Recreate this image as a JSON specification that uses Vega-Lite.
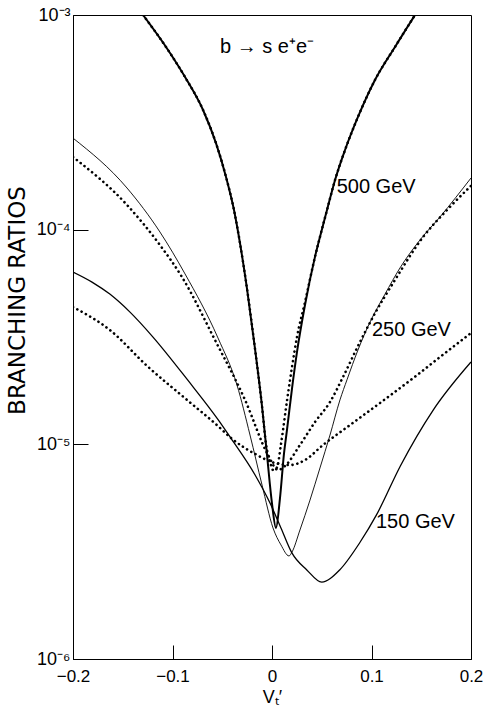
{
  "$schema": "https://vega.github.io/schema/vega-lite/v6.json",
  "autosize": {"type": "none"},
  "padding": {"left": 73, "top": 15, "right": 14, "bottom": 49},
  "width": 398,
  "height": 644,
  "background": "white",
  "config": {
    "view": {"stroke": "black", "strokeWidth": 1},
    "font": "Liberation Sans"
  },
  "datasets": {
    "curves": [
      {"series": "500s", "x": -0.1296, "y": 1e-3},
      {"series": "500s", "x": -0.1045, "y": 6.87e-4},
      {"series": "500s", "x": -0.0874, "y": 5.14e-4},
      {"series": "500s", "x": -0.0693, "y": 3.61e-4},
      {"series": "500s", "x": -0.0563, "y": 2.53e-4},
      {"series": "500s", "x": -0.0462, "y": 1.76e-4},
      {"series": "500s", "x": -0.0382, "y": 1.235e-4},
      {"series": "500s", "x": -0.0322, "y": 8.67e-5},
      {"series": "500s", "x": -0.0251, "y": 5.3e-5},
      {"series": "500s", "x": -0.0171, "y": 2.79e-5},
      {"series": "500s", "x": -0.01, "y": 1.5e-5},
      {"series": "500s", "x": -0.005, "y": 8.9e-6},
      {"series": "500s", "x": 0.0, "y": 5.3e-6},
      {"series": "500s", "x": 0.004, "y": 4.08e-6},
      {"series": "500s", "x": 0.008, "y": 5.6e-6},
      {"series": "500s", "x": 0.0121, "y": 9.1e-6},
      {"series": "500s", "x": 0.0151, "y": 1.17e-5},
      {"series": "500s", "x": 0.0201, "y": 1.82e-5},
      {"series": "500s", "x": 0.0251, "y": 2.69e-5},
      {"series": "500s", "x": 0.0332, "y": 4.47e-5},
      {"series": "500s", "x": 0.0432, "y": 7.47e-5},
      {"series": "500s", "x": 0.0482, "y": 9.25e-5},
      {"series": "500s", "x": 0.0553, "y": 1.235e-4},
      {"series": "500s", "x": 0.0633, "y": 1.7e-4},
      {"series": "500s", "x": 0.0734, "y": 2.35e-4},
      {"series": "500s", "x": 0.0864, "y": 3.35e-4},
      {"series": "500s", "x": 0.1035, "y": 4.98e-4},
      {"series": "500s", "x": 0.1236, "y": 7.1e-4},
      {"series": "500s", "x": 0.1437, "y": 1e-3},

      {"series": "500d", "x": -0.1296, "y": 1e-3},
      {"series": "500d", "x": -0.1045, "y": 6.87e-4},
      {"series": "500d", "x": -0.0874, "y": 5.14e-4},
      {"series": "500d", "x": -0.0693, "y": 3.61e-4},
      {"series": "500d", "x": -0.0563, "y": 2.53e-4},
      {"series": "500d", "x": -0.0462, "y": 1.76e-4},
      {"series": "500d", "x": -0.0382, "y": 1.235e-4},
      {"series": "500d", "x": -0.0322, "y": 8.67e-5},
      {"series": "500d", "x": -0.0251, "y": 5.3e-5},
      {"series": "500d", "x": -0.0171, "y": 2.79e-5},
      {"series": "500d", "x": -0.01, "y": 1.5e-5},
      {"series": "500d", "x": -0.006, "y": 1.0e-5},
      {"series": "500d", "x": -0.002, "y": 8.3e-6},
      {"series": "500d", "x": 0.001, "y": 7.6e-6},
      {"series": "500d", "x": 0.005, "y": 7.8e-6},
      {"series": "500d", "x": 0.009, "y": 1.0e-5},
      {"series": "500d", "x": 0.0151, "y": 1.6e-5},
      {"series": "500d", "x": 0.0201, "y": 2.29e-5},
      {"series": "500d", "x": 0.0251, "y": 3.16e-5},
      {"series": "500d", "x": 0.0332, "y": 4.6e-5},
      {"series": "500d", "x": 0.0432, "y": 7.47e-5},
      {"series": "500d", "x": 0.0482, "y": 9.25e-5},
      {"series": "500d", "x": 0.0553, "y": 1.235e-4},
      {"series": "500d", "x": 0.0633, "y": 1.7e-4},
      {"series": "500d", "x": 0.0734, "y": 2.35e-4},
      {"series": "500d", "x": 0.0864, "y": 3.35e-4},
      {"series": "500d", "x": 0.1035, "y": 4.98e-4},
      {"series": "500d", "x": 0.1236, "y": 7.1e-4},
      {"series": "500d", "x": 0.1437, "y": 1e-3},

      {"series": "250s", "x": -0.2, "y": 2.67e-4},
      {"series": "250s", "x": -0.1457, "y": 1.563e-4},
      {"series": "250s", "x": -0.1126, "y": 9.75e-5},
      {"series": "250s", "x": -0.0874, "y": 6.22e-5},
      {"series": "250s", "x": -0.0543, "y": 3.13e-5},
      {"series": "250s", "x": -0.0352, "y": 1.89e-5},
      {"series": "250s", "x": -0.0221, "y": 1.105e-5},
      {"series": "250s", "x": -0.01, "y": 6.46e-6},
      {"series": "250s", "x": 0.001, "y": 4.08e-6},
      {"series": "250s", "x": 0.009, "y": 3.4e-6},
      {"series": "250s", "x": 0.0171, "y": 3.02e-6},
      {"series": "250s", "x": 0.0201, "y": 3.15e-6},
      {"series": "250s", "x": 0.0281, "y": 3.99e-6},
      {"series": "250s", "x": 0.0382, "y": 5.5e-6},
      {"series": "250s", "x": 0.0482, "y": 7.76e-6},
      {"series": "250s", "x": 0.0583, "y": 1.105e-5},
      {"series": "250s", "x": 0.0683, "y": 1.61e-5},
      {"series": "250s", "x": 0.0754, "y": 2.0e-5},
      {"series": "250s", "x": 0.0864, "y": 2.75e-5},
      {"series": "250s", "x": 0.0985, "y": 3.71e-5},
      {"series": "250s", "x": 0.1136, "y": 5.01e-5},
      {"series": "250s", "x": 0.1286, "y": 6.63e-5},
      {"series": "250s", "x": 0.1487, "y": 8.95e-5},
      {"series": "250s", "x": 0.1688, "y": 1.146e-4},
      {"series": "250s", "x": 0.2, "y": 1.74e-4},

      {"series": "250d", "x": -0.2, "y": 2.18e-4},
      {"series": "250d", "x": -0.1457, "y": 1.303e-4},
      {"series": "250d", "x": -0.1126, "y": 8.48e-5},
      {"series": "250d", "x": -0.0905, "y": 6.02e-5},
      {"series": "250d", "x": -0.0573, "y": 3.06e-5},
      {"series": "250d", "x": -0.0271, "y": 1.61e-5},
      {"series": "250d", "x": -0.004, "y": 8.92e-6},
      {"series": "250d", "x": 0.006, "y": 7.6e-6},
      {"series": "250d", "x": 0.0131, "y": 7.93e-6},
      {"series": "250d", "x": 0.0281, "y": 9.93e-6},
      {"series": "250d", "x": 0.0432, "y": 1.27e-5},
      {"series": "250d", "x": 0.0583, "y": 1.575e-5},
      {"series": "250d", "x": 0.0714, "y": 2.06e-5},
      {"series": "250d", "x": 0.0864, "y": 2.87e-5},
      {"series": "250d", "x": 0.1015, "y": 3.92e-5},
      {"series": "250d", "x": 0.1236, "y": 5.83e-5},
      {"series": "250d", "x": 0.1518, "y": 9.24e-5},
      {"series": "250d", "x": 0.1759, "y": 1.235e-4},
      {"series": "250d", "x": 0.2, "y": 1.6e-4},

      {"series": "150s", "x": -0.2, "y": 6.35e-5},
      {"series": "150s", "x": -0.1809, "y": 5.7e-5},
      {"series": "150s", "x": -0.163, "y": 5.01e-5},
      {"series": "150s", "x": -0.1427, "y": 4.13e-5},
      {"series": "150s", "x": -0.1196, "y": 3.16e-5},
      {"series": "150s", "x": -0.085, "y": 2.0e-5},
      {"series": "150s", "x": -0.054, "y": 1.3e-5},
      {"series": "150s", "x": -0.042, "y": 1.08e-5},
      {"series": "150s", "x": -0.017, "y": 7.2e-6},
      {"series": "150s", "x": -0.002, "y": 5.33e-6},
      {"series": "150s", "x": 0.009, "y": 4.08e-6},
      {"series": "150s", "x": 0.02, "y": 3.12e-6},
      {"series": "150s", "x": 0.035, "y": 2.6e-6},
      {"series": "150s", "x": 0.05, "y": 2.28e-6},
      {"series": "150s", "x": 0.068, "y": 2.6e-6},
      {"series": "150s", "x": 0.088, "y": 3.47e-6},
      {"series": "150s", "x": 0.105, "y": 4.69e-6},
      {"series": "150s", "x": 0.129, "y": 7.93e-6},
      {"series": "150s", "x": 0.162, "y": 1.445e-5},
      {"series": "150s", "x": 0.2, "y": 2.42e-5},

      {"series": "150d", "x": -0.2, "y": 4.36e-5},
      {"series": "150d", "x": -0.163, "y": 3.41e-5},
      {"series": "150d", "x": -0.1256, "y": 2.32e-5},
      {"series": "150d", "x": -0.0854, "y": 1.61e-5},
      {"series": "150d", "x": -0.0543, "y": 1.217e-5},
      {"series": "150d", "x": -0.0422, "y": 1.08e-5},
      {"series": "150d", "x": -0.0151, "y": 8.92e-6},
      {"series": "150d", "x": 0.003, "y": 8.18e-6},
      {"series": "150d", "x": 0.0181, "y": 8.01e-6},
      {"series": "150d", "x": 0.0332, "y": 8.45e-6},
      {"series": "150d", "x": 0.0513, "y": 9.93e-6},
      {"series": "150d", "x": 0.0784, "y": 1.23e-5},
      {"series": "150d", "x": 0.1085, "y": 1.558e-5},
      {"series": "150d", "x": 0.1457, "y": 2.1e-5},
      {"series": "150d", "x": 0.1688, "y": 2.55e-5},
      {"series": "150d", "x": 0.2, "y": 3.3e-5}
    ],
    "labels": [
      {"label": "b → s e⁺e⁻", "x": -0.0523, "y": 7.1e-4},
      {"label": "500 GeV", "x": 0.065, "y": 1.58e-4},
      {"label": "250 GeV", "x": 0.1005, "y": 3.41e-5},
      {"label": "150 GeV", "x": 0.1045, "y": 4.35e-6}
    ]
  },
  "data": {"name": "curves"},
  "encoding": {
    "x": {
      "field": "x", "type": "quantitative",
      "scale": {"domain": [-0.2, 0.2], "nice": false, "zero": false},
      "axis": {
        "values": [-0.2, -0.1, 0, 0.1, 0.2],
        "labelExpr": "datum.value == 0 ? '0' : format(datum.value, '.1f')",
        "grid": false,
        "zindex": 1,
        "tickSize": -14,
        "labelPadding": 23,
        "domainColor": "black",
        "tickColor": "black",
        "labelColor": "black",
        "labelFont": "Liberation Sans",
        "labelFontSize": 17,
        "labelFlush": false,
        "title": "Vₜ′",
        "titleFont": "Liberation Sans",
        "titleFontSize": 18,
        "titleFontWeight": "normal",
        "titleColor": "black",
        "titleBaseline": "top",
        "titleY": 29
      }
    },
    "y": {
      "field": "y", "type": "quantitative",
      "scale": {"type": "log", "domain": [1e-6, 1e-3], "nice": false},
      "axis": {
        "values": [1e-6, 1e-5, 1e-4, 1e-3],
        "labelExpr": "datum.value > 5e-4 ? '10⁻³' : datum.value > 5e-5 ? '10⁻⁴' : datum.value > 5e-6 ? '10⁻⁵' : '10⁻⁶'",
        "grid": false,
        "zindex": 1,
        "tickSize": -15,
        "labelPadding": 18,
        "domainColor": "black",
        "tickColor": "black",
        "labelColor": "black",
        "labelFont": "Liberation Sans",
        "labelFontSize": 18,
        "labelFlush": false,
        "title": "BRANCHING RATIOS",
        "titleFont": "DejaVu Sans",
        "titleFontSize": 23,
        "titleFontWeight": "normal",
        "titleColor": "black",
        "titleBaseline": "alphabetic",
        "titleX": -49,
        "titleY": 285
      }
    }
  },
  "layer": [
    {
      "transform": [{"filter": "datum.series == '500s'"}],
      "mark": {"type": "line", "clip": true, "interpolate": "monotone", "color": "black", "strokeWidth": 2}
    },
    {
      "transform": [{"filter": "datum.series == '250s'"}],
      "mark": {"type": "line", "clip": true, "interpolate": "monotone", "color": "black", "strokeWidth": 0.9}
    },
    {
      "transform": [{"filter": "datum.series == '150s'"}],
      "mark": {"type": "line", "clip": true, "interpolate": "monotone", "color": "black", "strokeWidth": 1.3}
    },
    {
      "transform": [{"filter": "datum.series == '500d' || datum.series == '250d' || datum.series == '150d'"}],
      "mark": {"type": "line", "clip": true, "interpolate": "monotone", "color": "black", "strokeWidth": 2.6, "strokeCap": "round", "strokeDash": [0.1, 4.8]},
      "encoding": {"detail": {"field": "series", "type": "nominal"}}
    },
    {
      "data": {"name": "labels"},
      "mark": {"type": "text", "align": "left", "baseline": "middle", "font": "Liberation Sans", "fontSize": 20, "color": "black"},
      "encoding": {
        "text": {"field": "label", "type": "nominal"}
      }
    }
  ]
}
